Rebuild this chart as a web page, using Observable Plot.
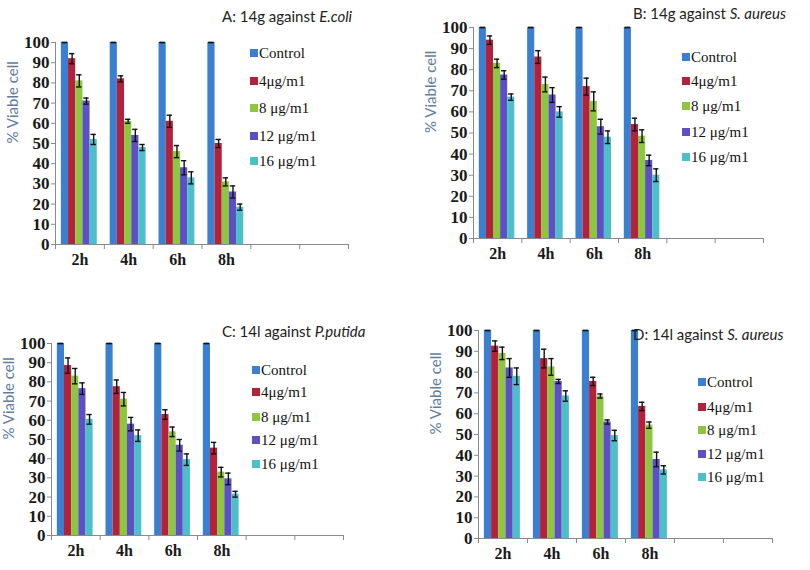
<!DOCTYPE html>
<html>
<head>
<meta charset="utf-8">
<script src="https://cdn.jsdelivr.net/npm/d3@7"></script>
<script src="https://cdn.jsdelivr.net/npm/@observablehq/plot@0.6"></script>
<style>
  html, body { margin: 0; padding: 0; background: #fff; }
  #root { position: relative; width: 810px; height: 570px; overflow: hidden; }
  .panel-svg { position: absolute; }
  .ptitle { position: absolute; font-family: Lato, "Open Sans", sans-serif; font-size: 15px; color: #222; white-space: nowrap; line-height: 1; }
  .legend { position: absolute; font-family: "Liberation Serif", "DejaVu Serif", serif; font-size: 15px; color: #111; }
  .legend .item { position: absolute; white-space: nowrap; display: flex; align-items: center; }
  .legend .sw { display: inline-block; width: 8px; height: 8px; margin-right: 1px; }
</style>
</head>
<body>
<div id="root"></div>
<script>
// ---- shared categories / labels ----
const series = ["Control", "4\u03bcg/m1", "8 \u03bcg/m1", "12 \u03bcg/m1", "16 \u03bcg/m1"];
const times = ["2h", "4h", "6h", "8h"];
const slotCount = 6; // 4 used time points + 2 empty slots on the axis
const yTicks = [0, 10, 20, 30, 40, 50, 60, 70, 80, 90, 100];
const colors = ["#3b7fd0", "#b3223a", "#8dc63f", "#5d50c4", "#4cbfc8"];
const yLabel = "% Viable cell";

// ---- Panel A: 14g against E.coli ----
const aValues = [
  [100, 100, 100, 100],
  [92, 82, 61, 50],
  [81, 61, 46, 31],
  [71, 54, 38, 26],
  [52, 48, 33, 18.5]
];
const aErrors = [
  [0, 0, 0, 0],
  [2.5, 1.5, 3, 2],
  [3, 1, 3, 2],
  [1.5, 3, 3.5, 3],
  [2.5, 1.5, 3, 1.5]
];
// ---- Panel B: 14g against S. aureus ----
const bValues = [
  [100, 100, 100, 100],
  [94, 86, 72, 54],
  [83, 73, 65, 48.5],
  [77.5, 68, 53, 37],
  [67, 60, 48, 30]
];
const bErrors = [
  [0, 0, 0, 0],
  [2, 3, 4, 3],
  [2, 3.5, 4.5, 3],
  [2, 3.5, 3.5, 2.5],
  [1.5, 2.5, 3, 3]
];
// ---- Panel C: 14l against P.putida ----
const cValues = [
  [100, 100, 100, 100],
  [88.5, 77.5, 63, 45.5],
  [83, 71, 54, 33],
  [76.5, 58, 47, 29.5],
  [60.5, 52, 39.5, 21.5]
];
const cErrors = [
  [0, 0, 0, 0],
  [4, 3.5, 2.5, 3],
  [4, 3.5, 2.5, 2.5],
  [3, 3.5, 3, 3],
  [2.5, 3, 3, 1.5]
];
// ---- Panel D: 14l against S. aureus ----
const dValues = [
  [100, 100, 100, 100],
  [92.5, 86.5, 75.5, 63.5],
  [89, 82.5, 68.5, 54.5],
  [82, 75.5, 56, 38],
  [78, 68.5, 49.5, 33]
];
const dErrors = [
  [0, 0, 0, 0],
  [2.5, 4.5, 2, 2],
  [3, 4, 1, 1.5],
  [4.5, 1, 1, 3.5],
  [4, 2.5, 2.5, 2]
];

const panels = [
  {values: aValues, errors: aErrors, prefix: "A: 14g against ", organism: "E.coli",
   frame: {x0: 55, x1: 348, top: 42, bottom: 244}, title: {x: 222, y: 17},
   legend: {x: 250, ys: [53, 81, 108, 136, 161]}},
  {values: bValues, errors: bErrors, prefix: "B: 14g against ", organism: "S. aureus",
   frame: {x0: 473, x1: 763, top: 27, bottom: 238}, title: {x: 633, y: 14},
   legend: {x: 682, ys: [57, 81, 106, 132, 157]}},
  {values: cValues, errors: cErrors, prefix: "C: 14l against ", organism: "P.putida",
   frame: {x0: 51, x1: 343, top: 343, bottom: 535}, title: {x: 222, y: 332},
   legend: {x: 252, ys: [370, 392, 417, 440, 464]}},
  {values: dValues, errors: dErrors, prefix: "D: 14l against ", organism: "S. aureus",
   frame: {x0: 478, x1: 772, top: 330, bottom: 538}, title: {x: 633, y: 335},
   legend: {x: 698, ys: [382, 407, 430, 454, 477]}}
];

const root = document.getElementById("root");
const mL = 50, mR = 8, mT = 12, mB = 30;
const groupStart = 0.12, barW = 0.147, capHalf = 0.055;
const serif = "'Liberation Serif', 'DejaVu Serif', serif";

for (const p of panels) {
  const rows = [];
  p.values.forEach((vals, si) => vals.forEach((v, ti) => rows.push({
    series: series[si], si, ti, time: times[ti], value: v, err: p.errors[si][ti]
  })));
  const left = (d) => d.ti + groupStart + d.si * barW;
  const mid = (d) => left(d) + barW / 2;
  const f = p.frame;
  const chart = Plot.plot({
    width: f.x1 - f.x0 + mL + mR,
    height: f.bottom - f.top + mT + mB,
    marginLeft: mL, marginRight: mR, marginTop: mT, marginBottom: mB,
    x: {domain: [0, slotCount], axis: null},
    y: {domain: [0, 100], axis: null},
    color: {domain: series, range: colors},
    style: {background: "transparent", overflow: "visible"},
    marks: [
      Plot.axisY({ticks: yTicks, tickSize: 4, tickPadding: 2, fontSize: 17, fontFamily: serif, fontWeight: "bold", label: null, stroke: "#8a8a8a", fill: "#1a1a1a"}),
      Plot.axisX({ticks: d3.range(slotCount + 1), tickFormat: () => "", tickSize: 5, stroke: "#8a8a8a", label: null}),
      Plot.axisX({ticks: times.map((t, i) => i + 0.5), tickFormat: (d) => times[Math.floor(d)], tickSize: 0, tickPadding: 9, fontSize: 16, fontFamily: serif, fontWeight: "bold", fill: "#1a1a1a", label: null}),
      Plot.rectY(rows, {x1: left, x2: (d) => left(d) + barW, y: "value", fill: "series"}),
      Plot.ruleX(rows, {x: mid, y1: (d) => d.value - d.err, y2: (d) => d.value + d.err, stroke: "#111", strokeWidth: 1.4}),
      Plot.ruleY(rows, {y: (d) => d.value + d.err, x1: (d) => mid(d) - capHalf, x2: (d) => mid(d) + capHalf, stroke: "#111", strokeWidth: 1.4}),
      Plot.ruleY(rows, {y: (d) => d.value - d.err, x1: (d) => mid(d) - capHalf, x2: (d) => mid(d) + capHalf, stroke: "#111", strokeWidth: 1.4}),
      Plot.ruleX([0], {stroke: "#8a8a8a"}),
      Plot.ruleY([0], {stroke: "#8a8a8a"}),
      Plot.text([yLabel], {frameAnchor: "left", rotate: -90, dx: -42, fontSize: 15, fill: "#5f7d9c", fontFamily: "Lato, 'Open Sans', sans-serif"})
    ]
  });
  chart.classList.add("panel-svg");
  chart.style.left = (f.x0 - mL) + "px";
  chart.style.top = (f.top - mT) + "px";
  root.appendChild(chart);

  const t = document.createElement("div");
  t.className = "ptitle";
  t.style.left = p.title.x + "px";
  t.style.top = (p.title.y - 8) + "px";
  t.innerHTML = p.prefix + "<i>" + p.organism + "</i>";
  root.appendChild(t);

  const lg = document.createElement("div");
  lg.className = "legend";
  series.forEach((s, i) => {
    const it = document.createElement("div");
    it.className = "item";
    it.style.left = p.legend.x + "px";
    it.style.top = (p.legend.ys[i] - 9) + "px";
    it.style.height = "18px";
    it.innerHTML = `<span class="sw" style="background:${colors[i]}"></span>${s}`;
    lg.appendChild(it);
  });
  root.appendChild(lg);
}
</script>
</body>
</html>
